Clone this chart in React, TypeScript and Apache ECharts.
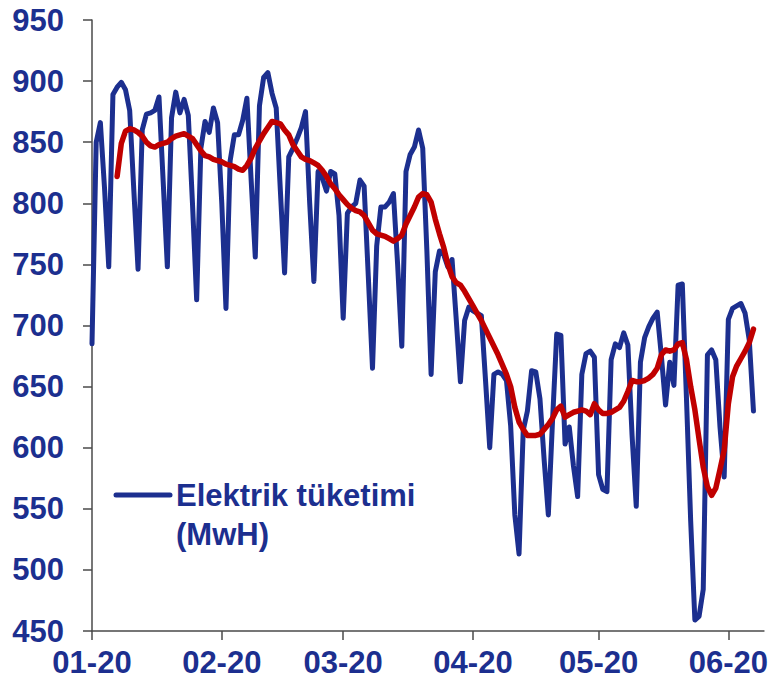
import React, { useEffect, useRef } from "react";
import * as echarts from "echarts";

// Month tick positions (day index from 1 Jan 2020) and their labels
const monthTicks = [0, 31, 60, 91, 121, 152];
const monthLabels = ["01-20", "02-20", "03-20", "04-20", "05-20", "06-20"];

// Daily electricity consumption (MWh), 1 Jan 2020 – 7 Jun 2020
const consumption = [
  685, 850, 866, 812, 748,
  889, 895, 899, 893, 876, 810, 746,
  860, 873, 874, 876, 887, 818, 748,
  870, 891, 874, 885, 872, 800, 721,
  845, 867, 858, 878, 866, 800, 714,
  835, 856, 856, 868, 886, 820, 756,
  880, 903, 907, 890, 878, 810, 743,
  838, 845, 853, 862, 875, 800, 736,
  826, 821, 810, 826, 824, 790, 706,
  792, 797, 800, 819, 814, 740, 665,
  765, 797, 797, 801, 808, 750, 683,
  826, 840, 846, 860, 845, 760, 660,
  744, 761, 758, 748, 754, 705, 654,
  704, 715, 712, 710, 708, 655, 600,
  660, 662, 660, 655, 618, 545, 513,
  614, 630, 663, 662, 640, 590, 545,
  622, 693, 692, 603, 617, 585, 560,
  660, 677, 679, 674, 578, 566, 564,
  672, 685, 682, 694, 684, 610, 552,
  670, 690, 699, 706, 711, 675, 635,
  670, 651, 733, 734, 640, 540, 459,
  462, 484, 676, 680, 672, 617, 576,
  705, 714, 716, 718, 710, 688, 630,
];

// 7-day average (red), starting on day index 6 (7 Jan)
const movingAvgStart = 6;
const movingAvg = [
  822, 849, 859, 861, 860, 858, 855,
  850, 847, 846, 848, 849, 850, 853,
  855, 856, 857, 855, 853, 848, 843,
  839, 838, 836, 835, 834, 832, 831,
  830, 828, 827, 831, 837, 845, 851,
  857, 862, 867, 866, 865, 860, 856,
  848, 843, 838, 836, 835, 833, 831,
  827, 822, 816, 812, 807, 803, 799,
  796, 794, 793, 790, 784, 778, 775,
  774, 773, 771, 769, 771, 774, 783,
  790, 797, 805, 808, 807, 801, 787,
  775, 764, 750, 740, 735, 733, 728,
  722, 716, 710, 704, 697, 690, 683,
  676, 668, 660, 650, 633, 621, 615,
  610, 610, 610, 611, 615, 619, 624,
  631, 634, 625, 627, 629, 630, 631,
  630, 627, 636, 631, 628, 628, 629,
  631, 633, 638, 646, 655, 654, 654,
  655, 657, 660, 665, 676, 680, 679,
  680, 685, 686, 672, 650, 631, 607,
  584, 568, 561, 567, 582, 598, 636,
  658, 667, 673, 679, 686, 697,
];

const yMin = 450;
const yMax = 950;
const yStep = 50;

const legendLines = ["Elektrik tüketimi", "(MwH)"];

const BLUE = "#1c2f8f";
const RED = "#c00000";
const AXIS = "#4a4a4a";
const FONT = "'Liberation Sans', Arial, Helvetica, sans-serif";

export default function App() {
  const ref = useRef<HTMLDivElement>(null);

  useEffect(() => {
    if (!ref.current) return;
    document.body.style.margin = "0";
    const chart = echarts.init(ref.current, undefined, { renderer: "svg" });
    chart.setOption({
      animation: false,
      backgroundColor: "#ffffff",
      grid: { left: 92, top: 20, right: 0, bottom: 54, containLabel: false },
      xAxis: {
        type: "value",
        min: 0,
        max: 160.5,
        splitLine: { show: false },
        axisLine: { show: true, onZero: false, lineStyle: { color: AXIS, width: 1.5 } },
        axisTick: {
          show: true,
          length: 9,
          inside: false,
          customValues: monthTicks,
          lineStyle: { color: AXIS, width: 1.5 },
        },
        axisLabel: {
          customValues: monthTicks,
          formatter: (v: number) => {
            const i = monthTicks.indexOf(v);
            return i >= 0 ? monthLabels[i] : "";
          },
          color: BLUE,
          fontFamily: FONT,
          fontWeight: "bold",
          fontSize: 31,
          margin: 16,
          showMaxLabel: true,
          showMinLabel: true,
          hideOverlap: false,
        },
      },
      yAxis: {
        type: "value",
        min: yMin,
        max: yMax,
        interval: yStep,
        splitLine: { show: false },
        axisLine: { show: true, lineStyle: { color: AXIS, width: 1.5 } },
        axisTick: { show: true, length: 9, lineStyle: { color: AXIS, width: 1.5 } },
        axisLabel: {
          color: BLUE,
          fontFamily: FONT,
          fontWeight: "bold",
          fontSize: 31,
          margin: 28,
        },
      },
      series: [
        {
          type: "line",
          name: "Elektrik tüketimi (MwH)",
          data: consumption.map((v, i) => [i, v]),
          showSymbol: false,
          symbol: "none",
          lineStyle: { color: BLUE, width: 5, join: "round", cap: "round" },
          z: 2,
        },
        {
          type: "line",
          name: "7 günlük ortalama",
          data: movingAvg.map((v, i) => [i + movingAvgStart, v]),
          showSymbol: false,
          symbol: "none",
          lineStyle: { color: RED, width: 5.5, join: "round", cap: "round" },
          z: 3,
        },
      ],
      graphic: [
        {
          type: "line",
          shape: { x1: 116, y1: 495, x2: 170, y2: 495 },
          style: { stroke: BLUE, lineWidth: 5, lineCap: "round" },
        },
        {
          type: "text",
          x: 176,
          y: 475.5,
          style: {
            text: legendLines.join("\n"),
            fill: BLUE,
            font: `bold 31px ${FONT}`,
            lineHeight: 39,
            align: "left",
            verticalAlign: "top",
          },
        },
      ],
    });
    return () => chart.dispose();
  }, []);

  return (
    <div
      ref={ref}
      style={{ position: "absolute", left: 0, top: 0, width: 771, height: 685 }}
    />
  );
}
